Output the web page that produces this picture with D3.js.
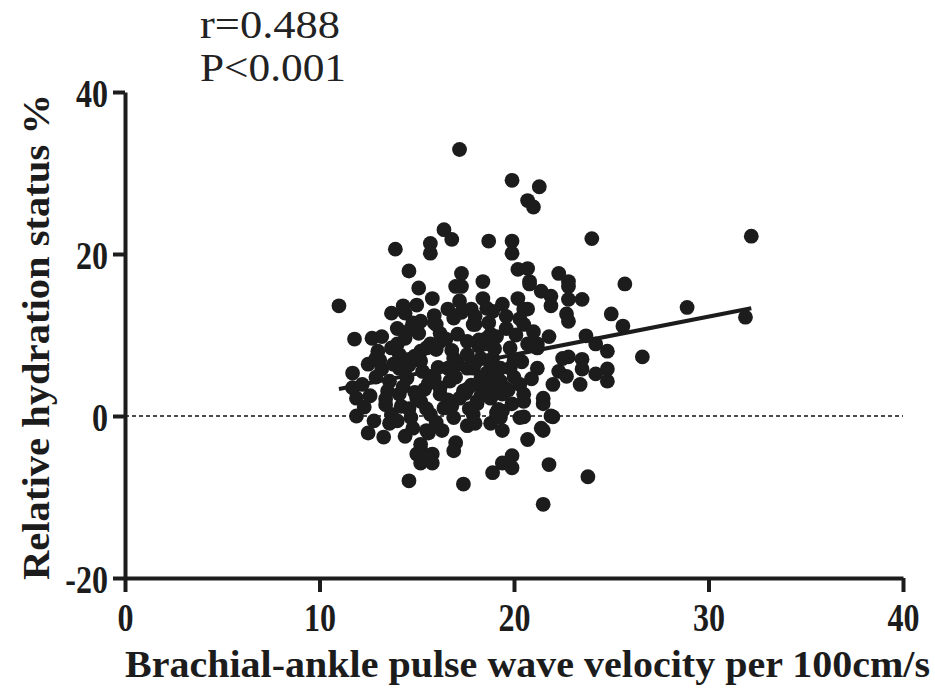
<!DOCTYPE html>
<html lang="en">
<head>
    <meta charset="UTF-8">
    <title>baPWV vs relative hydration status</title>
    <script src="https://cdn.jsdelivr.net/npm/d3@7"></script>
    <style>
        body { margin: 0; background: #fff; }
    </style>
</head>
<body>
<script type="text/javascript">
    // brachial-ankle PWV (per 100cm/s)
    var bapwv = [
        11.0, 11.8, 17.2, 19.9, 21.3, 20.7, 21.0, 16.4, 16.8, 13.9,
        15.7, 15.7, 18.7, 19.9, 19.9, 20.2, 14.6, 17.3, 18.4, 24.0,
        20.7, 22.3, 22.8, 25.7, 20.8, 32.2, 28.9, 31.9, 26.6, 15.1,
        17.0, 17.3, 18.4, 20.2, 15.8, 15.0, 13.7, 14.4, 16.6, 18.9,
        16.9, 14.8, 18.0, 12.7, 13.0, 13.7, 14.4, 16.2, 17.1, 18.8,
        19.6, 15.2, 15.7, 17.6, 18.9, 19.8, 12.5, 11.7, 13.2, 14.1,
        15.2, 16.9, 17.6, 19.8, 11.7, 12.2, 13.6, 14.5, 15.9, 16.7,
        18.3, 19.3, 11.9, 12.6, 14.1, 15.2, 16.2, 17.2, 18.1, 18.9,
        19.9, 11.9, 12.8, 13.7, 14.7, 15.7, 16.9, 17.9, 19.3, 12.5,
        13.3, 14.4, 14.8, 15.6, 16.3, 17.6, 18.0, 18.8, 19.4, 17.0,
        16.9, 15.2, 15.0, 15.8, 15.2, 15.8, 15.5, 14.6, 17.4, 18.9,
        19.4, 19.9, 19.9, 20.3, 20.5, 22.0, 21.5, 20.7, 21.8, 23.8,
        21.5, 20.8, 21.4, 21.9, 22.8, 22.8, 23.5, 20.7, 21.9, 22.7,
        22.8, 25.0, 25.6, 20.5, 23.7, 24.2, 24.8, 22.8, 23.5, 21.2,
        21.2, 22.3, 22.7, 23.5, 24.2, 24.8, 24.8, 23.4, 22.0, 21.5,
        21.5, 21.9, 20.5, 19.4, 18.8, 19.4, 21.4, 14.3, 15.2, 14.7,
        17.9, 16.2, 15.5, 14.1, 17.6, 18.6, 18.8, 17.9, 16.6, 15.3,
        16.2, 17.4, 18.4, 15.0, 18.1, 18.6, 20.5, 20.7, 21.2, 22.5,
        18.3, 19.3, 18.4, 20.3, 18.8, 20.5, 18.3, 15.5, 15.2,
        13.1, 13.5, 14.0, 14.2, 14.9, 15.4, 15.9, 16.1, 16.5, 17.0,
        17.3, 17.8, 18.2, 18.6, 19.1, 19.5, 20.0, 20.3, 13.4, 14.6,
        15.1, 16.4, 16.8, 17.5, 18.0, 18.7, 19.2, 19.7, 20.1, 12.9,
        13.8, 14.3, 15.5, 16.0, 17.1, 17.7, 18.5, 19.0, 19.6, 20.4,
        12.3, 13.2, 14.9, 15.9, 16.6, 17.2, 18.2, 19.1, 20.0, 14.0,
        16.0, 17.8, 19.4, 21.0, 21.8,
        14.0, 15.0, 16.0, 17.0, 18.0, 13.4, 14.6, 15.6, 16.8, 12.9,
        13.6, 14.6, 20.9, 19.0, 17.6
    ];
    // relative hydration status (%)
    var rhs = [
        13.6, 9.5, 32.9, 29.1, 28.3, 26.6, 25.8, 23.0, 21.8, 20.6,
        21.3, 20.1, 21.6, 21.6, 20.1, 18.1, 17.9, 17.6, 16.6, 21.9,
        18.2, 17.6, 16.6, 16.3, 16.6, 22.2, 13.4, 12.2, 7.3, 15.8,
        16.0, 16.0, 14.5, 14.5, 14.5, 13.7, 12.7, 12.7, 13.2, 12.9,
        12.1, 11.5, 11.3, 9.6, 8.0, 8.4, 9.6, 10.2, 10.1, 10.1,
        10.8, 8.0, 8.9, 9.2, 7.1, 8.4, 6.4, 5.3, 5.8, 5.9,
        6.8, 7.1, 5.9, 5.9, 3.5, 3.9, 4.3, 4.7, 4.7, 4.3,
        4.7, 4.3, 2.2, 2.5, 2.7, 1.8, 2.7, 2.2, 1.8, 2.7,
        1.5, 0.0, -0.6, 0.2, -0.2, 0.2, -0.2, 0.2, -0.2, -2.1,
        -2.6, -2.5, -1.5, -2.1, -1.8, -1.2, -0.9, -0.9, -1.8, -3.3,
        -4.3, -4.1, -4.7, -4.7, -5.8, -5.8, -5.3, -8.0, -8.4, -7.0,
        -5.8, -4.9, -6.4, -0.2, -0.1, -0.1, -1.8, -2.9, -6.0, -7.5,
        -10.9, 16.3, 15.4, 14.8, 16.0, 14.4, 14.4, 13.2, 13.6, 12.6,
        11.7, 12.6, 11.1, 11.3, 9.9, 8.9, 8.0, 7.3, 7.0, 8.9,
        5.9, 5.5, 4.9, 5.8, 5.2, 5.8, 4.3, 3.9, 3.9, 2.2,
        1.5, 0.0, 2.7, 2.7, 3.9, 0.6, -1.5, 13.6, 11.7, 10.8,
        11.3, 9.2, 8.4, 7.6, 7.6, 9.6, 6.4, 5.9, 5.9, 5.5,
        3.5, 3.1, 3.5, 2.2, 1.5, 13.3, 13.2, 8.9, 8.4, 7.1,
        7.1, 5.9, 3.9, 3.9, 2.2, 1.8, 2.5, -1.8, -3.5,
        6.9, 3.1, 10.8, 1.2, 7.4, 3.3, 11.5, 6.0, 9.5, 4.8,
        12.8, 3.8, 8.6, 5.3, 9.8, 3.5, 6.8, 12.0, 1.4, 6.3,
        10.2, 1.0, 8.1, 2.8, 6.5, 11.5, 0.8, 3.2, 10.0, 4.8,
        6.4, 3.6, 0.9, 8.2, 6.4, 0.9, 8.9, 5.2, 12.3, 6.7,
        1.1, 9.8, 2.9, 12.4, 2.0, 14.2, 9.4, 0.4, 4.8, -0.6,
        -0.8, 13.2, 13.8, 10.4, 9.8,
        8.9, 10.9, 11.3, 6.6, 12.3, 2.1, 7.0, 4.0, 1.2, 7.1,
        -0.9, 0.9, 4.6, 8.3, 3.3
    ];
    var xTicks = [0, 10, 20, 30, 40];
    var yTicks = [-20, 0, 20, 40];
    // fitted line as drawn in the figure
    var fitX = [11.0, 32.2];
    var fitSlope = 0.47, fitIntercept = -1.83;
    var statLines = ['r=0.488', 'P<0.001'];

    var width = 935, height = 691;
    var svg = d3.select('body').append('svg')
            .attr('width', width)
            .attr('height', height);

    var x = d3.scaleLinear().domain([0, 40]).range([125, 903]);
    var y = d3.scaleLinear().domain([-20, 40]).range([578, 92]);

    var serif = '"Liberation Serif", "Times New Roman", serif';
    var ink = '#1c1c1c';

    // zero reference line
    svg.append('line')
            .attr('x1', x(0)).attr('x2', x(40))
            .attr('y1', y(0)).attr('y2', y(0))
            .attr('stroke', '#111')
            .attr('stroke-width', 1.6)
            .attr('stroke-dasharray', '4,3');

    // points
    svg.append('g').selectAll('circle')
            .data(d3.range(bapwv.length))
            .enter()
            .append('circle')
            .attr('cx', function (i) { return x(bapwv[i]); })
            .attr('cy', function (i) { return y(rhs[i]); })
            .attr('r', 7.4)
            .attr('fill', ink);

    // regression line
    svg.append('line')
            .attr('x1', x(fitX[0])).attr('y1', y(fitIntercept + fitSlope * fitX[0]))
            .attr('x2', x(fitX[1])).attr('y2', y(fitIntercept + fitSlope * fitX[1]))
            .attr('stroke', ink)
            .attr('stroke-width', 4);

    // axes (plain hyphen for negatives, like the original)
    var fmt = function (d) { return String(d); };
    var xAxis = d3.axisBottom(x).tickValues(xTicks).tickFormat(fmt)
            .tickSize(14).tickSizeOuter(0).tickPadding(10);
    var yAxis = d3.axisLeft(y).tickValues(yTicks).tickFormat(fmt)
            .tickSize(12).tickSizeOuter(0).tickPadding(10);

    var gx = svg.append('g').attr('transform', 'translate(0,' + y(-20) + ')').call(xAxis);
    var gy = svg.append('g').attr('transform', 'translate(' + x(0) + ',0)').call(yAxis);

    [gx, gy].forEach(function (g) {
        g.select('.domain').attr('stroke', ink).attr('stroke-width', 4);
        g.selectAll('.tick line').attr('stroke', ink).attr('stroke-width', 4);
        g.selectAll('.tick text')
                .attr('fill', ink)
                .style('font-family', serif)
                .style('font-weight', 'bold')
                .style('font-size', '40px');
    });
    gx.selectAll('.tick text')
            .attr('y', 25)
            .attr('dy', '0.71em')
            .attr('transform', 'scale(0.8,1)');
    gy.selectAll('.tick text')
            .attr('x', -17 / 0.8)
            .attr('dy', '0.35em')
            .attr('transform', 'scale(0.8,1)');

    // axis titles
    svg.append('text')
            .attr('x', 125).attr('y', 677)
            .attr('textLength', 805)
            .attr('lengthAdjust', 'spacingAndGlyphs')
            .style('font-family', serif)
            .style('font-weight', 'bold')
            .style('font-size', '38px')
            .attr('fill', ink)
            .text('Brachial-ankle pulse wave velocity per 100cm/s');

    svg.append('text')
            .attr('transform', 'translate(49,580) rotate(-90)')
            .attr('textLength', 486)
            .attr('lengthAdjust', 'spacingAndGlyphs')
            .style('font-family', serif)
            .style('font-weight', 'bold')
            .style('font-size', '38px')
            .attr('fill', ink)
            .text('Relative hydration status %');

    // r and P
    var statWidths = [140, 146];
    svg.append('g').selectAll('text')
            .data(statLines)
            .enter()
            .append('text')
            .attr('x', 200)
            .attr('y', function (d, i) { return 38 + i * 43; })
            .attr('textLength', function (d, i) { return statWidths[i]; })
            .attr('lengthAdjust', 'spacingAndGlyphs')
            .style('font-family', serif)
            .style('font-size', '40px')
            .attr('fill', '#222')
            .text(function (d) { return d; });
</script>
</body>
</html>
